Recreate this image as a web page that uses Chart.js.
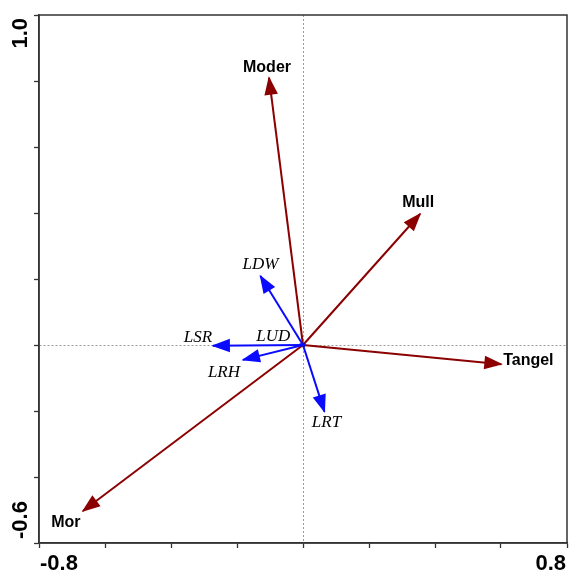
<!DOCTYPE html>
<html>
<head>
<meta charset="utf-8">
<script src="https://cdn.jsdelivr.net/npm/chart.js@4"></script>
<style>
  html, body { margin: 0; padding: 0; background: #fff; }
  #wrap { width: 571px; height: 576px; }
</style>
</head>
<body>
<div id="wrap"><canvas id="biplot" width="571" height="576"></canvas></div>
<script>
// humus forms (red arrows)
const soilNames = ['Moder', 'Mull', 'Tangel', 'Mor'];
const soilX = [-0.103, 0.355, 0.601, -0.667];
const soilY = [0.810, 0.397, -0.058, -0.503];

// litter variables (blue arrows)
const litterNames = ['LDW', 'LSR', 'LUD', 'LRH', 'LRT'];
const litterX = [-0.129, -0.273, -0.008, -0.182, 0.065];
const litterY = [0.209, -0.002, 0.003, -0.045, -0.202];

const xTickValues = [-0.8, 0.8];
const xTickLabels = ['-0.8', '0.8'];
const yTickValues = [-0.6, 1.0];
const yTickLabels = ['-0.6', '1.0'];

const RED = '#8b0000';
const BLUE = '#0a0aff';

// where each label sits relative to its arrow tip (px)
const soilLabelOffset = [[-2, -10], [-2, -11], [27, -4], [-17, 12]];
const litterLabelOffset = [[0, -11], [-15, -8], [-27, -7], [-19, 13], [2, 11]];

const datasets = [];
litterNames.forEach((name, i) => {
  datasets.push({
    label: name,
    data: [{ x: 0, y: 0 }, { x: litterX[i], y: litterY[i] }],
    borderColor: BLUE,
    borderWidth: 2,
    showLine: true,
    pointRadius: name === 'LUD' ? [3, 0] : 0,
    pointStyle: 'rect',
    pointBackgroundColor: '#3a0a5a',
    pointBorderWidth: 0,
    labelFont: 'italic 17px "Liberation Serif", "Times New Roman", serif',
    labelOffset: litterLabelOffset[i]
  });
});
soilNames.forEach((name, i) => {
  datasets.push({
    label: name,
    data: [{ x: 0, y: 0 }, { x: soilX[i], y: soilY[i] }],
    borderColor: RED,
    borderWidth: 2,
    showLine: true,
    pointRadius: 0,
    labelFont: 'bold 16px "Liberation Sans", Arial, sans-serif',
    labelOffset: soilLabelOffset[i]
  });
});

const arrowPlugin = {
  id: 'arrows',
  afterDatasetsDraw(chart) {
    const ctx = chart.ctx;
    chart.data.datasets.forEach((ds, i) => {
      const pts = chart.getDatasetMeta(i).data;
      const a = pts[0], b = pts[1];
      const dx = b.x - a.x, dy = b.y - a.y;
      const len = Math.hypot(dx, dy);
      const hl = Math.min(17, len + 2);
      const hw = hl * 0.4;
      ctx.save();
      ctx.translate(b.x, b.y);
      ctx.rotate(Math.atan2(dy, dx));
      ctx.beginPath();
      ctx.moveTo(1.5, 0);
      ctx.lineTo(-hl, hw);
      ctx.lineTo(-hl, -hw);
      ctx.closePath();
      ctx.fillStyle = ds.borderColor;
      ctx.fill();
      ctx.restore();

      ctx.save();
      ctx.font = ds.labelFont;
      ctx.fillStyle = '#000';
      ctx.textAlign = 'center';
      ctx.textBaseline = 'middle';
      ctx.fillText(ds.label, b.x + ds.labelOffset[0], b.y + ds.labelOffset[1]);
      ctx.restore();
    });
  }
};

const framePlugin = {
  id: 'frame',
  afterDraw(chart) {
    const ctx = chart.ctx;
    const area = chart.chartArea;
    const xs = chart.scales.x, ys = chart.scales.y;
    ctx.save();
    ctx.strokeStyle = '#333';
    ctx.lineWidth = 1.5;
    ctx.strokeRect(area.left, area.top, area.right - area.left, area.bottom - area.top);

    ctx.fillStyle = '#000';
    ctx.font = 'bold 22px "Liberation Sans", Arial, sans-serif';
    ctx.textBaseline = 'middle';
    xTickValues.forEach((v, i) => {
      const px = xs.getPixelForValue(v);
      ctx.textAlign = i === 0 ? 'left' : 'right';
      ctx.fillText(xTickLabels[i], px + (i === 0 ? 1 : -1), area.bottom + 21);
    });
    yTickValues.forEach((v, i) => {
      const py = ys.getPixelForValue(v);
      ctx.save();
      ctx.translate(21, py + (i === 0 ? -4 : 3));
      ctx.rotate(-Math.PI / 2);
      ctx.textAlign = i === 0 ? 'left' : 'right';
      ctx.fillText(yTickLabels[i], 0, 0);
      ctx.restore();
    });
    ctx.restore();
  }
};

const zeroGrid = c => (c.tick && c.tick.value === 0 ? '#9a9a9a' : 'rgba(0,0,0,0)');

new Chart(document.getElementById('biplot'), {
  type: 'scatter',
  data: { datasets },
  options: {
    responsive: false,
    animation: false,
    layout: { padding: { left: 34, top: 15, right: 3, bottom: 28 } },
    plugins: { legend: { display: false }, tooltip: { enabled: false } },
    scales: {
      x: {
        type: 'linear',
        min: -0.8,
        max: 0.8,
        ticks: { display: false, stepSize: 0.2 },
        grid: { color: zeroGrid, lineWidth: 1, tickColor: '#333', tickLength: 5, tickWidth: 1.3, tickBorderDash: [] },
        border: { color: '#333', width: 1.5, dash: [2, 2] }
      },
      y: {
        type: 'linear',
        min: -0.6,
        max: 1.0,
        ticks: { display: false, stepSize: 0.2 },
        grid: { color: zeroGrid, lineWidth: 1, tickColor: '#333', tickLength: 5, tickWidth: 1.3, tickBorderDash: [] },
        border: { color: '#333', width: 1.5, dash: [2, 2] }
      }
    }
  },
  plugins: [arrowPlugin, framePlugin]
});
</script>
</body>
</html>
